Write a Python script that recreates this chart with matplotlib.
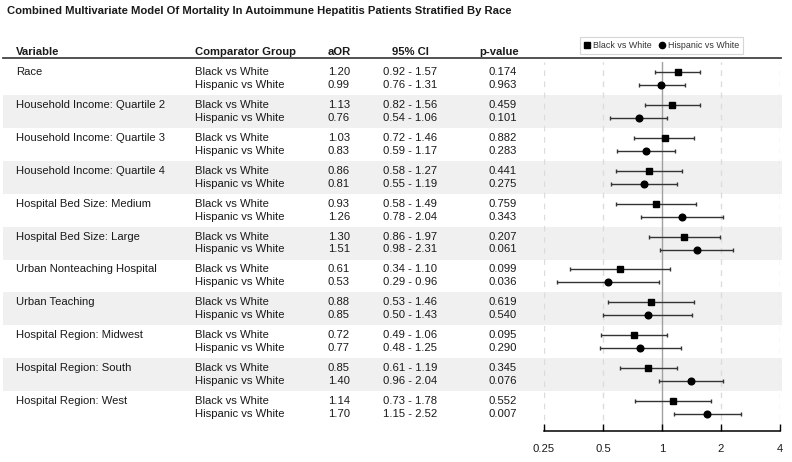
import matplotlib
matplotlib.use("Agg")
import matplotlib.pyplot as plt
import numpy as np

plt.rcParams["font.family"] = ["Liberation Sans", "DejaVu Sans"]

title = "Combined Multivariate Model Of Mortality In Autoimmune Hepatitis Patients Stratified By Race"
headers = ["Variable", "Comparator Group", "aOR", "95% CI", "p-value"]
variables = ["Race", "Household Income: Quartile 2", "Household Income: Quartile 3",
             "Household Income: Quartile 4", "Hospital Bed Size: Medium",
             "Hospital Bed Size: Large", "Urban Nonteaching Hospital", "Urban Teaching",
             "Hospital Region: Midwest", "Hospital Region: South", "Hospital Region: West"]
groups = ["Black vs White", "Hispanic vs White"]

black_aor = [1.20, 1.13, 1.03, 0.86, 0.93, 1.30, 0.61, 0.88, 0.72, 0.85, 1.14]
black_lo = [0.92, 0.82, 0.72, 0.58, 0.58, 0.86, 0.34, 0.53, 0.49, 0.61, 0.73]
black_hi = [1.57, 1.56, 1.46, 1.27, 1.49, 1.97, 1.10, 1.46, 1.06, 1.19, 1.78]
black_p = ["0.174", "0.459", "0.882", "0.441", "0.759", "0.207", "0.099", "0.619", "0.095", "0.345", "0.552"]

hisp_aor = [0.99, 0.76, 0.83, 0.81, 1.26, 1.51, 0.53, 0.85, 0.77, 1.40, 1.70]
hisp_lo = [0.76, 0.54, 0.59, 0.55, 0.78, 0.98, 0.29, 0.50, 0.48, 0.96, 1.15]
hisp_hi = [1.31, 1.06, 1.17, 1.19, 2.04, 2.31, 0.96, 1.43, 1.25, 2.04, 2.52]
hisp_p = ["0.963", "0.101", "0.283", "0.275", "0.343", "0.061", "0.036", "0.540", "0.290", "0.076", "0.007"]

xticks = [0.25, 0.5, 1, 2, 4]

W, H = 792, 462
TXT = "#1a1a1a"
FS = 8.1

fig = plt.figure(figsize=(W / 100, H / 100), dpi=100)
# table axes in pixel units
tab = fig.add_axes([0, 0, 1, 1])
tab.set_xlim(0, W)
tab.set_ylim(H, 0)
tab.axis("off")

top, pitch, gap = 72, 32.9, 13
y_b = np.array([top + pitch * i for i in range(len(variables))])
y_h = y_b + gap

tab.text(7, 11, title, fontsize=8.1, fontweight="bold", color=TXT, va="center")

# shaded bands
for i in range(len(variables)):
    if i % 2 == 1:
        tab.axhspan(y_b[i] - 10, y_h[i] + 10, xmin=3 / W, xmax=782 / W, color="#f0f0f0", lw=0, zorder=0)

# header
hx = [(16, "left"), (195, "left"), (339, "center"), (410, "center"), (499, "center")]
for (x, ha), h in zip(hx, headers):
    tab.text(x, 52, h, fontsize=FS, fontweight="bold", ha=ha, va="center", color=TXT)
tab.plot([3, 781], [57.5, 57.5], color="#444444", lw=1.3)

for i, v in enumerate(variables):
    tab.text(16, y_b[i], v, fontsize=FS, va="center", color=TXT)
    for y, g, a, lo, hi, p in [(y_b[i], groups[0], black_aor[i], black_lo[i], black_hi[i], black_p[i]),
                               (y_h[i], groups[1], hisp_aor[i], hisp_lo[i], hisp_hi[i], hisp_p[i])]:
        tab.text(195, y, g, fontsize=FS, va="center", color=TXT)
        tab.text(339, y, f"{a:.2f}", fontsize=FS, va="center", ha="center", color=TXT)
        tab.text(410, y, f"{lo:.2f} - {hi:.2f}", fontsize=FS, va="center", ha="center", color=TXT)
        tab.text(503, y, p, fontsize=FS, va="center", ha="center", color=TXT)

# forest axes
ax_top, ax_bot = 62, 431
ax = fig.add_axes([544 / W, 1 - ax_bot / H, (780 - 544) / W, (ax_bot - ax_top) / H])
ax.patch.set_alpha(0)
ax.set_xscale("log", base=2)
ax.set_xlim(0.25, 4)
ax.set_ylim(ax_bot, ax_top)
for x in xticks:
    if x == 1:
        ax.axvline(x, color="#a0a0a0", lw=1, zorder=1)
    else:
        ax.axvline(x, color="#dcdcdc", lw=1, ls=(0, (4, 4)), zorder=1)
for s in ["top", "left", "right"]:
    ax.spines[s].set_visible(False)
ax.spines["bottom"].set_linewidth(1.1)
ax.set_yticks([])
ax.set_xticks(xticks)
ax.set_xticklabels([f"{x:g}" for x in xticks])
ax.xaxis.set_minor_locator(matplotlib.ticker.NullLocator())
ax.tick_params(axis="x", direction="in", length=5, width=1, pad=9, labelsize=FS, labelcolor=TXT)

bx = np.array(black_aor)
hxv = np.array(hisp_aor)
ax.errorbar(bx, y_b, xerr=[bx - np.array(black_lo), np.array(black_hi) - bx], fmt="s",
            color="black", ecolor="#333333", ms=4.6, capsize=1.7, elinewidth=1, capthick=1,
            clip_on=False, zorder=3, label=groups[0])
ax.errorbar(hxv, y_h, xerr=[hxv - np.array(hisp_lo), np.array(hisp_hi) - hxv], fmt="o",
            color="black", ecolor="#333333", ms=4.8, capsize=1.7, elinewidth=1, capthick=1,
            clip_on=False, zorder=3, label=groups[1])

handles = [plt.Line2D([], [], marker="s", color="black", ls="none", ms=4.5),
           plt.Line2D([], [], marker="o", color="black", ls="none", ms=4.5)]
leg = fig.legend(handles, groups, loc="upper left", bbox_to_anchor=(580 / W, 1 - 37 / H),
                 ncol=2, fontsize=6.4, frameon=True, fancybox=False, edgecolor="#cccccc",
                 handlelength=0.7, handletextpad=0.3, columnspacing=0.8, borderpad=0.45,
                 borderaxespad=0)
leg.get_frame().set_linewidth(0.8)
for t in leg.get_texts():
    t.set_color("#333333")

fig.savefig("out.png", dpi=100)
